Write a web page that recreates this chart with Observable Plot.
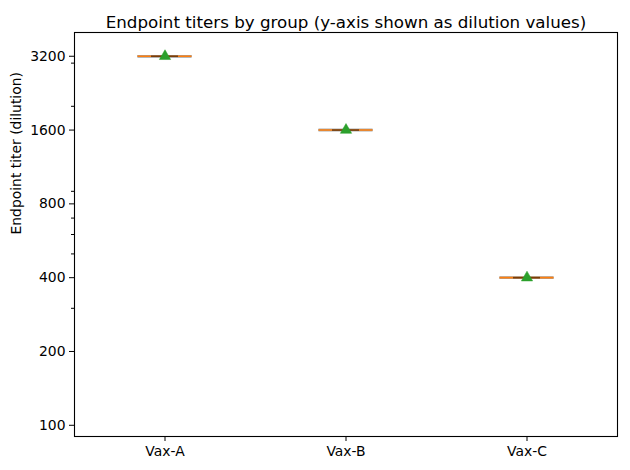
<!DOCTYPE html>
<html>
<head>
<meta charset="utf-8">
<script src="https://cdn.jsdelivr.net/npm/d3@7"></script>
<script src="https://cdn.jsdelivr.net/npm/@observablehq/plot@0.6"></script>
<style>
  html, body { margin: 0; padding: 0; background: #fff; }
  #chart svg { font-family: "DejaVu Sans", sans-serif; }
</style>
</head>
<body>
<div id="chart"></div>
<script>
// Data
const groups = ["Vax-A", "Vax-B", "Vax-C"];
const q1 = [3200, 1600, 400];
const medians = [3200, 1600, 400];
const q3 = [3200, 1600, 400];
const whiskerLow = [3200, 1600, 400];
const whiskerHigh = [3200, 1600, 400];
const means = [3200, 1600, 400];
const majorTicks = [100, 200, 400, 800, 1600, 3200];
const minorTicks = [300, 500, 600, 700, 900, 2000, 3000];
const yDomain = [90, 4000];
const title = "Endpoint titers by group (y-axis shown as dilution values)";
const yLabel = "Endpoint titer (dilution)";

const rows = groups.map((g, i) => ({
  group: g, q1: q1[i], median: medians[i], q3: q3[i],
  lo: whiskerLow[i], hi: whiskerHigh[i], mean: means[i]
}));

const boxInset = 63.5;   // box width 0.3 of spacing
const capInset = 77;     // caps half the box width

const chart = Plot.plot({
  width: 630,
  height: 470,
  marginTop: 32,
  marginBottom: 34,
  marginLeft: 74,
  marginRight: 13,
  style: { fontFamily: "DejaVu Sans, sans-serif", fontSize: "13.9px", color: "#000", background: "#fff" },
  x: { type: "band", domain: groups, padding: 0, align: 0.5 },
  y: { type: "log", domain: yDomain, base: 2 },
  marks: [
    // Box (q1 & q3 edges)
    Plot.tickY(rows, { x: "group", y: "q1", stroke: "#a0a0a0", strokeWidth: 2.4, insetLeft: boxInset, insetRight: boxInset }),
    Plot.tickY(rows, { x: "group", y: "q3", stroke: "#a0a0a0", strokeWidth: 2.4, insetLeft: boxInset, insetRight: boxInset }),
    // Median
    Plot.tickY(rows, { x: "group", y: "median", stroke: "#ff7f0e", strokeWidth: 1.6, insetLeft: boxInset, insetRight: boxInset }),
    // Whisker caps
    Plot.tickY(rows, { x: "group", y: "lo", stroke: "#000", strokeOpacity: 0.3, strokeWidth: 1.6, insetLeft: capInset, insetRight: capInset }),
    Plot.tickY(rows, { x: "group", y: "hi", stroke: "#000", strokeOpacity: 0.3, strokeWidth: 1.6, insetLeft: capInset, insetRight: capInset }),
    // Means
    Plot.dot(rows, { x: "group", y: "mean", symbol: "triangle", r: 4.2, fill: "#2ca02c", stroke: "#2ca02c", strokeWidth: 0.5 }),
    // Axes
    Plot.axisY(majorTicks, { tickFormat: d => String(d), tickSize: 5, tickPadding: 4, label: null, fontSize: "13.9px" }),
    Plot.axisY(minorTicks, { tickSize: 3, text: null, label: null }),
    Plot.axisX({ tickSize: 5, tickPadding: 5, label: null, fontSize: "13.9px" }),
    Plot.frame({ stroke: "#000", strokeWidth: 1.1 }),
    // Title
    Plot.text([title], { frameAnchor: "top", dy: -16, fontSize: 16.7, fill: "#000", text: d => d }),
    // Y label
    Plot.text([yLabel], { frameAnchor: "left", dx: -58, rotate: -90, fontSize: 13.9, fill: "#000", text: d => d })
  ]
});
document.getElementById("chart").appendChild(chart);
</script>
</body>
</html>
